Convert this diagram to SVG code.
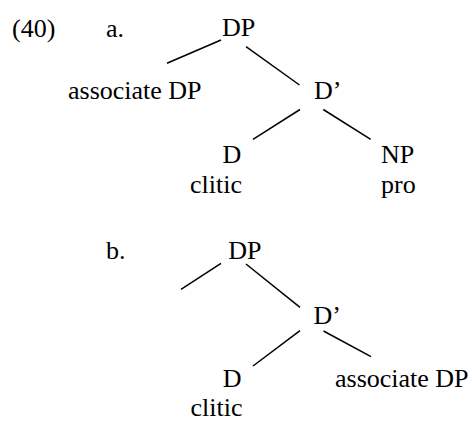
<svg xmlns="http://www.w3.org/2000/svg" width="472" height="421" viewBox="0 0 472 421">
<style>
text{font-family:"Liberation Serif","Times New Roman",serif;font-size:26px;fill:#000}
.e{stroke:#000;stroke-width:1.5;fill:none;stroke-linecap:butt}
</style>
<rect width="472" height="421" fill="#fff"/>
<g id="labels">
<text x="12" y="36.5">(40)</text>
<text x="106" y="36.5">a.</text>
<text x="106" y="258.5">b.</text>
</g>
<g id="connectors">
<line class="e" x1="221" y1="40" x2="167" y2="63.3"/>
<line class="e" x1="246" y1="46.7" x2="299.5" y2="85"/>
<line class="e" x1="300" y1="109.5" x2="253" y2="139.3"/>
<line class="e" x1="323.3" y1="109.5" x2="370.7" y2="139.3"/>
<line class="e" x1="221" y1="263.3" x2="181" y2="289.3"/>
<line class="e" x1="246" y1="264" x2="300" y2="307.3"/>
<line class="e" x1="300" y1="330.7" x2="253" y2="366"/>
<line class="e" x1="323.5" y1="331" x2="371" y2="356.7"/>
</g>
<g id="a-DP"><text x="222" y="36">DP</text></g>
<g id="a-assoc"><text x="68" y="98.5">associate DP</text></g>
<g id="a-Dbar"><text x="314" y="99">D’</text></g>
<g id="a-D"><text x="222.5" y="163">D</text><text x="190" y="193">clitic</text></g>
<g id="a-NP"><text x="381" y="163">NP</text><text x="381" y="193">pro</text></g>
<g id="b-DP"><text x="228.3" y="258.5">DP</text></g>
<g id="b-Dbar"><text x="313.5" y="324">D’</text></g>
<g id="b-D"><text x="222.7" y="387.3">D</text><text x="190.5" y="416">clitic</text></g>
<g id="b-assoc"><text x="335" y="387.3">associate DP</text></g>
</svg>
